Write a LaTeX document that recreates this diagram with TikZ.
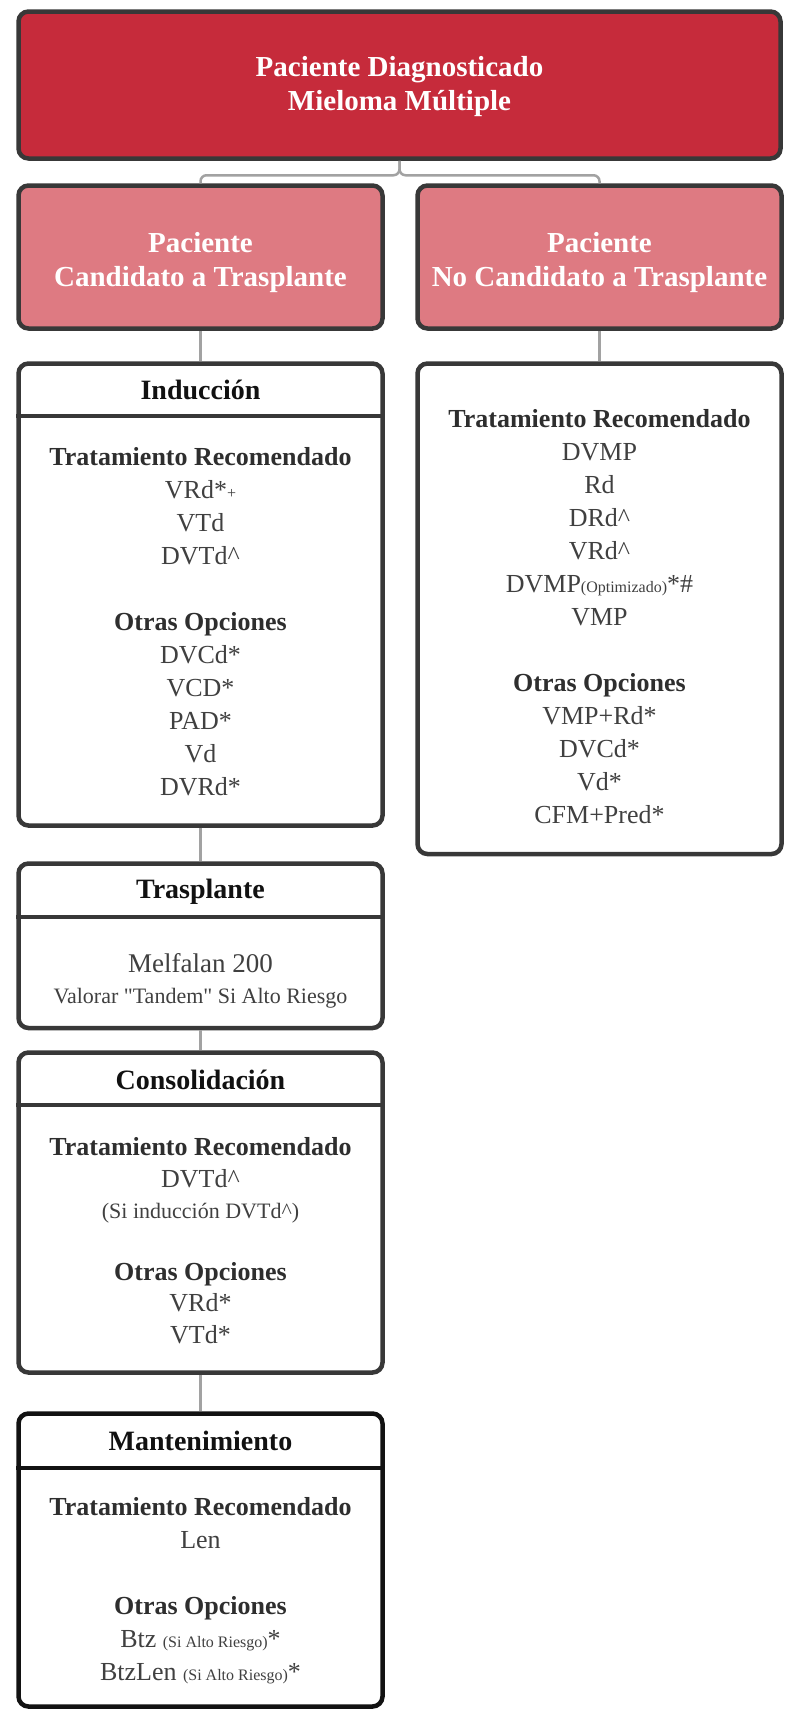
\documentclass[tikz,border=0pt]{standalone}
\usepackage{fontspec}
\setmainfont{Liberation Serif}
\usetikzlibrary{positioning, calc}
\definecolor{mmred}{HTML}{C62B3B}
\definecolor{mmpink}{HTML}{DE7A82}
\definecolor{mmedge}{HTML}{383838}
\definecolor{mmedgedark}{HTML}{121212}
\definecolor{mmwire}{HTML}{A2A2A2}
\definecolor{mmink}{HTML}{404040}
\definecolor{mmsecink}{HTML}{2E2E2E}
\definecolor{mmheadink}{HTML}{111111}
\tikzset{
  mmbase/.style   = {draw=mmedge, line width=4.5pt, rounded corners=10pt, inner sep=0pt,
                     minimum width=364pt, fill=white},
  mmroot/.style   = {mmbase, fill=mmred, minimum width=762pt, minimum height=147pt},
  mmbranch/.style = {mmbase, fill=mmpink, minimum height=143pt},
  mmframe/.style  = {mmbase},
  mmtitle/.style  = {text=white, align=center, font=\fontsize{29}{34}\selectfont\bfseries},
  mmhead/.style   = {text=mmheadink, font=\fontsize{28}{30}\selectfont\bfseries},
  mmbody/.style   = {text=mmink, align=center, font=\fontsize{26}{33}\selectfont},
  mmdiv/.style    = {draw=mmedge, line width=4.5pt},
  mmlink/.style   = {draw=mmwire, line width=2.5pt},
}
\newcommand{\mmsmall}[1]{{\fontsize{16}{16}\selectfont #1}}
\newcommand{\mmsec}[1]{{\color{mmsecink}\bfseries #1}}

\begin{document}
\begin{tikzpicture}[x=1pt, y=-1pt]
\useasboundingbox (0,0) rectangle (792,1716);

% root and the two branches
\node[mmroot] (diag) at (399.5,85) {};
\node[mmtitle] (diagt) at ([yshift=-2pt]diag) {Paciente Diagnosticado\\Mieloma Múltiple};

\node[mmbranch] (cand) at (200.5,257) {};
\node[mmtitle] (candt) at ([yshift=-6pt]cand) {Paciente\\Candidato a Trasplante};
\node[mmbranch] (nocand) at (599.5,257) {};
\node[mmtitle] (nocandt) at ([yshift=-6pt]nocand) {Paciente\\No Candidato a Trasplante};

\draw[mmlink, rounded corners=6pt] (diag.south) -- ++(0,14.5) -| (cand.north);
\draw[mmlink, rounded corners=6pt] (diag.south) -- ++(0,14.5) -| (nocand.north);

% left column: the transplant path
\node[mmframe, minimum height=462pt] (ind) at (200.5,594.5) {};
\draw[mmdiv] ([yshift=-54.5pt]ind.north west) -- ([yshift=-54.5pt]ind.north east);
\node[mmhead] (indh) at ([yshift=-29pt]ind.north) {Inducción};
\node[mmbody] (indb) at (200.5,622) {\mmsec{Tratamiento Recomendado}\\
  VRd*\mmsmall{+}\\ VTd\\ DVTd\textasciicircum\\[33pt]
  \mmsec{Otras Opciones}\\ DVCd*\\ VCD*\\ PAD*\\ Vd\\ DVRd*};

\node[mmframe, minimum height=164.5pt] (tras) at (200.5,945.75) {};
\draw[mmdiv] ([yshift=-55.5pt]tras.north west) -- ([yshift=-55.5pt]tras.north east);
\node[mmhead] (trash) at ([yshift=-30.5pt]tras.north) {Trasplante};
\node[mmbody, font=\fontsize{22}{31}\selectfont] (trasb) at (200.5,980.5)
  {{\fontsize{27}{31}\selectfont Melfalan 200}\\ Valorar \textquotedbl Tandem\textquotedbl{} Si Alto Riesgo};

\node[mmframe, minimum height=320pt] (cons) at (200.5,1212.5) {};
\draw[mmdiv] ([yshift=-54.5pt]cons.north west) -- ([yshift=-54.5pt]cons.north east);
\node[mmhead] (consh) at ([yshift=-29.5pt]cons.north) {Consolidación};
\node[mmbody, font=\fontsize{26}{31.5}\selectfont] (consb) at (200.5,1240.5)
  {\mmsec{Tratamiento Recomendado}\\ DVTd\textasciicircum\\
   {\fontsize{22}{30}\selectfont (Si inducción DVTd\textasciicircum)}\\[30pt]
   \mmsec{Otras Opciones}\\ VRd*\\ VTd*};

\node[mmframe, draw=mmedgedark, minimum height=293pt] (mant) at (200.5,1560) {};
\draw[mmdiv, draw=mmedgedark] ([yshift=-56.5pt]mant.north west) -- ([yshift=-56.5pt]mant.north east);
\node[mmhead] (manth) at ([yshift=-29.5pt]mant.north) {Mantenimiento};
\node[mmbody] (mantb) at (200.5,1590.5) {\mmsec{Tratamiento Recomendado}\\ Len\\[33pt]
  \mmsec{Otras Opciones}\\ Btz \mmsmall{(Si Alto Riesgo)}*\\ BtzLen \mmsmall{(Si Alto Riesgo)}*};

\draw[mmlink] (cand) -- (ind);
\draw[mmlink] (ind) -- (tras);
\draw[mmlink] (tras) -- (cons);
\draw[mmlink] (cons) -- (mant);

% right column: no transplant
\node[mmframe, minimum height=490.5pt] (ntr) at (599.5,608.75) {};
\node[mmbody] (ntrb) at (599.5,617) {\mmsec{Tratamiento Recomendado}\\
  DVMP\\ Rd\\ DRd\textasciicircum\\ VRd\textasciicircum\\ DVMP\mmsmall{(Optimizado)}*\#\\ VMP\\[33pt]
  \mmsec{Otras Opciones}\\ VMP+Rd*\\ DVCd*\\ Vd*\\ CFM+Pred*};

\draw[mmlink] (nocand) -- (ntr);
\end{tikzpicture}
\end{document}
